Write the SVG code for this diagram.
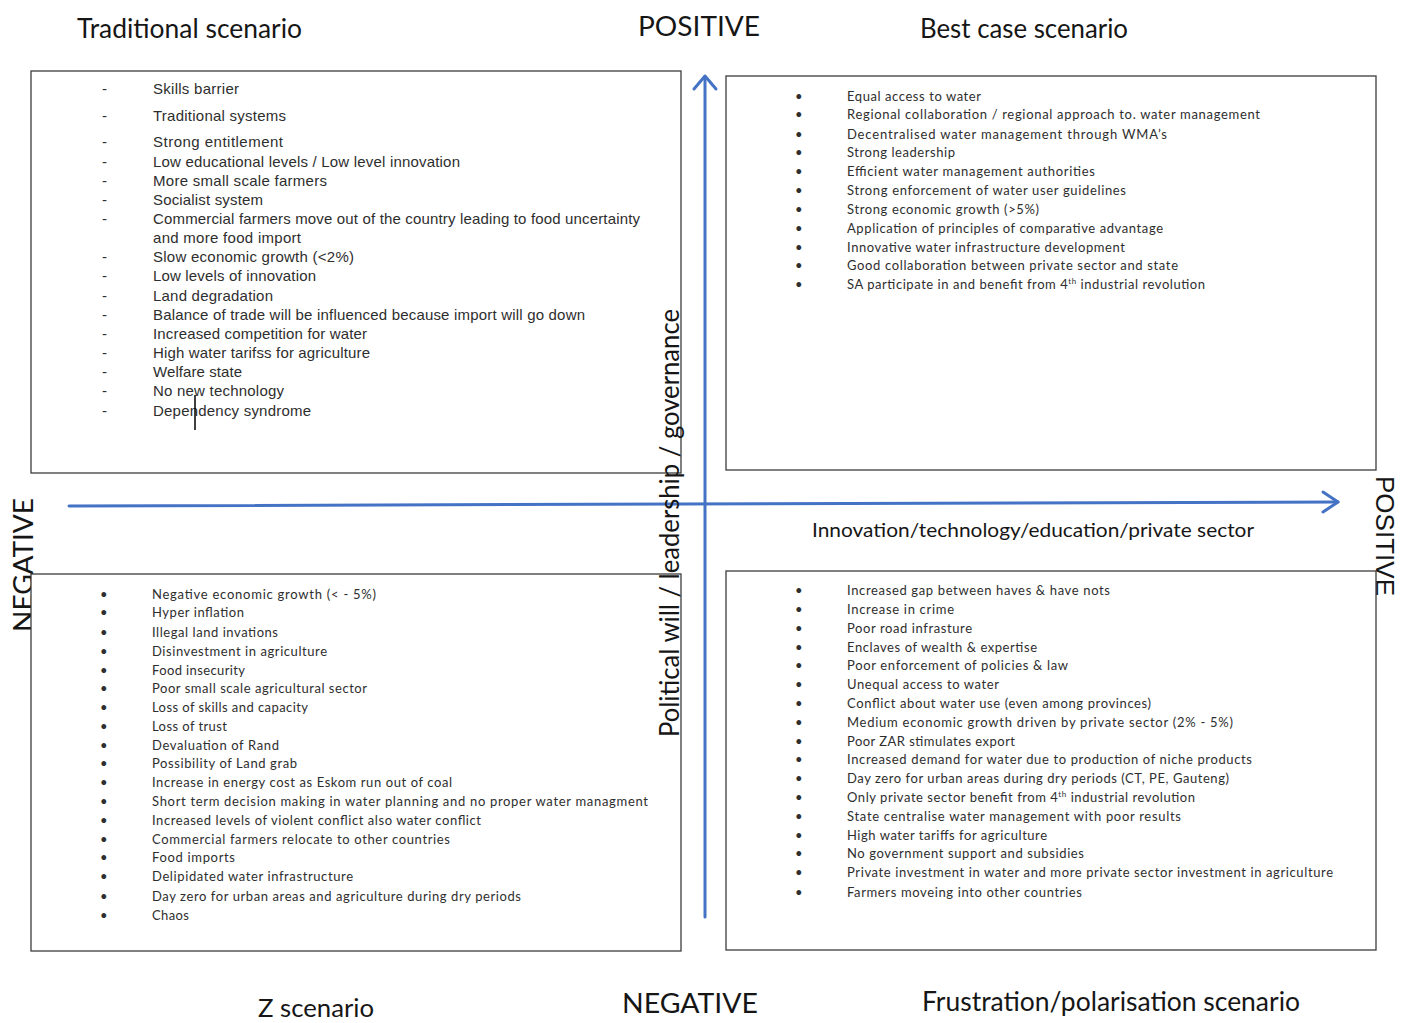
<svg xmlns="http://www.w3.org/2000/svg" width="1402" height="1023" viewBox="0 0 1402 1023">
<style>
.box{fill:#fff;stroke:#3c3c3c;stroke-width:1.3}
.ax{stroke:#4472C4;stroke-width:3;fill:none;stroke-linecap:round;stroke-linejoin:round}
.h{font-family:Lato,"Liberation Sans",sans-serif;fill:#161616}
.ar{font-family:"Liberation Sans",Arial,sans-serif;font-size:15px;fill:#2e2e2e}
.ca{font-family:Lato,"Liberation Sans",sans-serif;font-size:13px;fill:#2e2e2e}
.sup{font-size:8px}
</style>
<rect width="1402" height="1023" fill="#fff"/>

<g id="labels">
<text class="h" x="77" y="38" font-size="26" textLength="225" lengthAdjust="spacingAndGlyphs">Traditional scenario</text>
<text class="h" x="638" y="36" font-size="27" textLength="122" lengthAdjust="spacingAndGlyphs">POSITIVE</text>
<text class="h" x="920" y="38" font-size="26" textLength="208" lengthAdjust="spacingAndGlyphs">Best case scenario</text>
<text class="h" x="258" y="1017" font-size="25" textLength="116" lengthAdjust="spacingAndGlyphs">Z scenario</text>
<text class="h" x="622" y="1013" font-size="27" textLength="136" lengthAdjust="spacingAndGlyphs">NEGATIVE</text>
<text class="h" x="922" y="1011" font-size="26" textLength="378" lengthAdjust="spacingAndGlyphs">Frustration/polarisation scenario</text>
<text class="h" x="812" y="537" font-size="19" textLength="442" lengthAdjust="spacingAndGlyphs">Innovation/technology/education/private sector</text>
<text class="h" transform="translate(33,565) rotate(-90)" text-anchor="middle" font-size="27" textLength="134" lengthAdjust="spacingAndGlyphs">NEGATIVE</text>
<text transform="translate(1376,536) rotate(90)" text-anchor="middle" font-family="'Liberation Sans',Arial,sans-serif" fill="#161616" font-size="25" textLength="120" lengthAdjust="spacingAndGlyphs">POSITIVE</text>
</g>

<g id="node-traditional">
<rect class="box" x="31" y="71" width="650" height="402"/>
<g class="ar">
<text x="102" y="94">-</text><text x="153" y="94" textLength="86">Skills barrier</text>
<text x="102" y="121">-</text><text x="153" y="121" textLength="133">Traditional systems</text>
<text x="102" y="147">-</text><text x="153" y="147" textLength="130">Strong entitlement</text>
<text x="102" y="167">-</text><text x="153" y="167" textLength="307">Low educational levels / Low level innovation</text>
<text x="102" y="186">-</text><text x="153" y="186" textLength="174">More small scale farmers</text>
<text x="102" y="205">-</text><text x="153" y="205" textLength="110">Socialist system</text>
<text x="102" y="224">-</text><text x="153" y="224" textLength="487">Commercial farmers move out of the country leading to food uncertainty</text>
<text x="153" y="243" textLength="148">and more food import</text>
<text x="102" y="262">-</text><text x="153" y="262" textLength="201">Slow economic growth (&lt;2%)</text>
<text x="102" y="281">-</text><text x="153" y="281" textLength="163">Low levels of innovation</text>
<text x="102" y="301">-</text><text x="153" y="301" textLength="120">Land degradation</text>
<text x="102" y="320">-</text><text x="153" y="320" textLength="432">Balance of trade will be influenced because import will go down</text>
<text x="102" y="339">-</text><text x="153" y="339" textLength="214">Increased competition for water</text>
<text x="102" y="358">-</text><text x="153" y="358" textLength="217">High water tarifss for agriculture</text>
<text x="102" y="377">-</text><text x="153" y="377" textLength="89">Welfare state</text>
<text x="102" y="396">-</text><text x="153" y="396" textLength="131">No new technology</text>
<text x="102" y="416">-</text><text x="153" y="416" textLength="158">Dependency syndrome</text>
</g>
<line x1="195" y1="395" x2="195" y2="430" stroke="#000" stroke-width="1.5"/>
</g>

<g id="node-best">
<rect class="box" x="726" y="76" width="650" height="394"/>
<g class="ca">
<text x="795" y="101">•</text><text x="847" y="101" textLength="134">Equal access to water</text>
<text x="795" y="119">•</text><text x="847" y="119" textLength="413">Regional collaboration / regional approach to. water management</text>
<text x="795" y="139">•</text><text x="847" y="139" textLength="320">Decentralised water management through WMA’s</text>
<text x="795" y="157">•</text><text x="847" y="157" textLength="108">Strong leadership</text>
<text x="795" y="176">•</text><text x="847" y="176" textLength="248">Efficient water management authorities</text>
<text x="795" y="195">•</text><text x="847" y="195" textLength="279">Strong enforcement of water user guidelines</text>
<text x="795" y="214">•</text><text x="847" y="214" textLength="192">Strong economic growth (&gt;5%)</text>
<text x="795" y="233">•</text><text x="847" y="233" textLength="316">Application of principles of comparative advantage</text>
<text x="795" y="252">•</text><text x="847" y="252" textLength="278">Innovative water infrastructure development</text>
<text x="795" y="270">•</text><text x="847" y="270" textLength="331">Good collaboration between private sector and state</text>
<text x="795" y="289">•</text><text x="847" y="289" textLength="358">SA participate in and benefit from 4<tspan class="sup" dy="-5">th</tspan><tspan dy="5"> industrial revolution</tspan></text>
</g>
</g>

<g id="node-z">
<rect class="box" x="31" y="574" width="650" height="377"/>
<g class="ca">
<text x="100" y="599">•</text><text x="152" y="599" textLength="224">Negative economic growth (&lt; - 5%)</text>
<text x="100" y="617">•</text><text x="152" y="617" textLength="92">Hyper inflation</text>
<text x="100" y="637">•</text><text x="152" y="637" textLength="126">Illegal land invations</text>
<text x="100" y="656">•</text><text x="152" y="656" textLength="175">Disinvestment in agriculture</text>
<text x="100" y="675">•</text><text x="152" y="675" textLength="93">Food insecurity</text>
<text x="100" y="693">•</text><text x="152" y="693" textLength="215">Poor small scale agricultural sector</text>
<text x="100" y="712">•</text><text x="152" y="712" textLength="156">Loss of skills and capacity</text>
<text x="100" y="731">•</text><text x="152" y="731" textLength="75">Loss of trust</text>
<text x="100" y="750">•</text><text x="152" y="750" textLength="127">Devaluation of Rand</text>
<text x="100" y="768">•</text><text x="152" y="768" textLength="145">Possibility of Land grab</text>
<text x="100" y="787">•</text><text x="152" y="787" textLength="300">Increase in energy cost as Eskom run out of coal</text>
<text x="100" y="806">•</text><text x="152" y="806" textLength="496">Short term decision making in water planning and no proper water managment</text>
<text x="100" y="825">•</text><text x="152" y="825" textLength="329">Increased levels of violent conflict also water conflict</text>
<text x="100" y="844">•</text><text x="152" y="844" textLength="298">Commercial farmers relocate to other countries</text>
<text x="100" y="862">•</text><text x="152" y="862" textLength="83">Food imports</text>
<text x="100" y="881">•</text><text x="152" y="881" textLength="201">Delipidated water infrastructure</text>
<text x="100" y="901">•</text><text x="152" y="901" textLength="369">Day zero for urban areas and agriculture during dry periods</text>
<text x="100" y="920">•</text><text x="152" y="920" textLength="37">Chaos</text>
</g>
</g>

<g id="node-frustration">
<rect class="box" x="726" y="571" width="650" height="379"/>
<g class="ca">
<text x="795" y="595">•</text><text x="847" y="595" textLength="263">Increased gap between haves &amp; have nots</text>
<text x="795" y="614">•</text><text x="847" y="614" textLength="107">Increase in crime</text>
<text x="795" y="633">•</text><text x="847" y="633" textLength="125">Poor road infrasture</text>
<text x="795" y="652">•</text><text x="847" y="652" textLength="190">Enclaves of wealth &amp; expertise</text>
<text x="795" y="670">•</text><text x="847" y="670" textLength="221">Poor enforcement of policies &amp; law</text>
<text x="795" y="689">•</text><text x="847" y="689" textLength="152">Unequal access to water</text>
<text x="795" y="708">•</text><text x="847" y="708" textLength="304">Conflict about water use (even among provinces)</text>
<text x="795" y="727">•</text><text x="847" y="727" textLength="386">Medium economic growth driven by private sector (2% - 5%)</text>
<text x="795" y="746">•</text><text x="847" y="746" textLength="168">Poor ZAR stimulates export</text>
<text x="795" y="764">•</text><text x="847" y="764" textLength="405">Increased demand for water due to production of niche products</text>
<text x="795" y="783">•</text><text x="847" y="783" textLength="382">Day zero for urban areas during dry periods (CT, PE, Gauteng)</text>
<text x="795" y="802">•</text><text x="847" y="802" textLength="348">Only private sector benefit from 4<tspan class="sup" dy="-5">th</tspan><tspan dy="5"> industrial revolution</tspan></text>
<text x="795" y="821">•</text><text x="847" y="821" textLength="334">State centralise water management with poor results</text>
<text x="795" y="840">•</text><text x="847" y="840" textLength="200">High water tariffs for agriculture</text>
<text x="795" y="858">•</text><text x="847" y="858" textLength="237">No government support and subsidies</text>
<text x="795" y="877">•</text><text x="847" y="877" textLength="486">Private investment in water and more private sector investment in agriculture</text>
<text x="795" y="897">•</text><text x="847" y="897" textLength="235">Farmers moveing into other countries</text>
</g>
</g>

<g id="connectors">
<line class="ax" x1="705" y1="917" x2="705" y2="77"/>
<polyline class="ax" points="694,89 705,76 716,89"/>
<line class="ax" x1="69" y1="506" x2="1338" y2="502"/>
<polyline class="ax" points="1323,492 1338,502 1323,512"/>
</g>

<g id="axis-label">
<text class="h" transform="translate(679,523) rotate(-90)" text-anchor="middle" font-size="26" textLength="428" lengthAdjust="spacingAndGlyphs">Political will / leadership / governance</text>
</g>
</svg>
